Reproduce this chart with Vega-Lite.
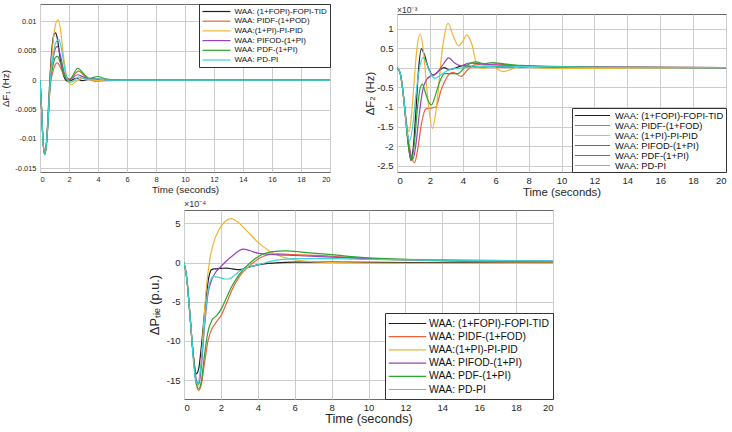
{
"$schema": "https://vega.github.io/schema/vega-lite/v6.json",
"padding": {"left": 0, "top": 3, "right": 2, "bottom": 0},
"autosize": {"type": "pad"},
"config": {
  "font": "Liberation Sans",
  "view": {"stroke": "#6a6a6a", "strokeWidth": 1},
  "axis": {"grid": true, "gridColor": "#cccccc", "gridWidth": 1, "domain": false, "ticks": false, "labelColor": "#262626", "titleColor": "#262626", "titleFontWeight": "normal", "labelFont": "Liberation Sans", "titleFont": "Liberation Sans"},
  "legend": {"title": null, "offset": 0, "strokeColor": "#333333", "fillColor": "#ffffff", "labelColor": "#111111", "labelLimit": 400, "symbolStrokeWidth": 1.6, "labelFont": "Liberation Sans"},
  "line": {"interpolate": "monotone", "strokeWidth": 1.2}
},
"datasets": {
"d1": [
{"s":"WAA: (1+FOPI)-FOPI-TID","t":0,"v":0},{"s":"WAA: (1+FOPI)-FOPI-TID","t":0.1,"v":-0.0045},{"s":"WAA: (1+FOPI)-FOPI-TID","t":0.2,"v":-0.01},{"s":"WAA: (1+FOPI)-FOPI-TID","t":0.33,"v":-0.0126},{"s":"WAA: (1+FOPI)-FOPI-TID","t":0.45,"v":-0.0105},{"s":"WAA: (1+FOPI)-FOPI-TID","t":0.55,"v":-0.0062},{"s":"WAA: (1+FOPI)-FOPI-TID","t":0.7,"v":0.001},{"s":"WAA: (1+FOPI)-FOPI-TID","t":0.85,"v":0.006},{"s":"WAA: (1+FOPI)-FOPI-TID","t":1.0,"v":0.0079},{"s":"WAA: (1+FOPI)-FOPI-TID","t":1.08,"v":0.008},{"s":"WAA: (1+FOPI)-FOPI-TID","t":1.2,"v":0.007},{"s":"WAA: (1+FOPI)-FOPI-TID","t":1.4,"v":0.0035},{"s":"WAA: (1+FOPI)-FOPI-TID","t":1.65,"v":0.0006},{"s":"WAA: (1+FOPI)-FOPI-TID","t":1.9,"v":-0.0002},{"s":"WAA: (1+FOPI)-FOPI-TID","t":2.2,"v":0},{"s":"WAA: (1+FOPI)-FOPI-TID","t":2.5,"v":0.0003},{"s":"WAA: (1+FOPI)-FOPI-TID","t":2.9,"v":-0.0001},{"s":"WAA: (1+FOPI)-FOPI-TID","t":3.5,"v":0.0002},{"s":"WAA: (1+FOPI)-FOPI-TID","t":4,"v":0.0001},{"s":"WAA: (1+FOPI)-FOPI-TID","t":4.6,"v":0},{"s":"WAA: (1+FOPI)-FOPI-TID","t":6,"v":0},{"s":"WAA: (1+FOPI)-FOPI-TID","t":20,"v":0},
{"s":"WAA: PIDF-(1+POD)","t":0,"v":0},{"s":"WAA: PIDF-(1+POD)","t":0.1,"v":-0.0045},{"s":"WAA: PIDF-(1+POD)","t":0.2,"v":-0.01},{"s":"WAA: PIDF-(1+POD)","t":0.33,"v":-0.0126},{"s":"WAA: PIDF-(1+POD)","t":0.45,"v":-0.0108},{"s":"WAA: PIDF-(1+POD)","t":0.55,"v":-0.0075},{"s":"WAA: PIDF-(1+POD)","t":0.7,"v":-0.001},{"s":"WAA: PIDF-(1+POD)","t":0.9,"v":0.0015},{"s":"WAA: PIDF-(1+POD)","t":1.05,"v":0.0026},{"s":"WAA: PIDF-(1+POD)","t":1.2,"v":0.0029},{"s":"WAA: PIDF-(1+POD)","t":1.4,"v":0.0022},{"s":"WAA: PIDF-(1+POD)","t":1.7,"v":0.0006},{"s":"WAA: PIDF-(1+POD)","t":2.05,"v":0.0002},{"s":"WAA: PIDF-(1+POD)","t":2.65,"v":0.0015},{"s":"WAA: PIDF-(1+POD)","t":3.2,"v":0.0004},{"s":"WAA: PIDF-(1+POD)","t":3.9,"v":-0.0002},{"s":"WAA: PIDF-(1+POD)","t":4.5,"v":-0.0001},{"s":"WAA: PIDF-(1+POD)","t":5.5,"v":0},{"s":"WAA: PIDF-(1+POD)","t":20,"v":0},
{"s":"WAA:(1+PI)-PI-PID","t":0,"v":0},{"s":"WAA:(1+PI)-PI-PID","t":0.1,"v":-0.0045},{"s":"WAA:(1+PI)-PI-PID","t":0.2,"v":-0.01},{"s":"WAA:(1+PI)-PI-PID","t":0.33,"v":-0.0126},{"s":"WAA:(1+PI)-PI-PID","t":0.45,"v":-0.0105},{"s":"WAA:(1+PI)-PI-PID","t":0.55,"v":-0.0065},{"s":"WAA:(1+PI)-PI-PID","t":0.7,"v":0},{"s":"WAA:(1+PI)-PI-PID","t":0.85,"v":0.005},{"s":"WAA:(1+PI)-PI-PID","t":1.05,"v":0.0092},{"s":"WAA:(1+PI)-PI-PID","t":1.24,"v":0.0102},{"s":"WAA:(1+PI)-PI-PID","t":1.4,"v":0.0088},{"s":"WAA:(1+PI)-PI-PID","t":1.6,"v":0.0045},{"s":"WAA:(1+PI)-PI-PID","t":1.85,"v":0.0005},{"s":"WAA:(1+PI)-PI-PID","t":2.15,"v":-0.0008},{"s":"WAA:(1+PI)-PI-PID","t":2.45,"v":-0.0003},{"s":"WAA:(1+PI)-PI-PID","t":2.9,"v":0.0003},{"s":"WAA:(1+PI)-PI-PID","t":3.4,"v":0.0001},{"s":"WAA:(1+PI)-PI-PID","t":4,"v":-0.0001},{"s":"WAA:(1+PI)-PI-PID","t":5,"v":-0.0001},{"s":"WAA:(1+PI)-PI-PID","t":6,"v":0},{"s":"WAA:(1+PI)-PI-PID","t":20,"v":0},
{"s":"WAA: PIFOD-(1+PI)","t":0,"v":0},{"s":"WAA: PIFOD-(1+PI)","t":0.1,"v":-0.0045},{"s":"WAA: PIFOD-(1+PI)","t":0.2,"v":-0.01},{"s":"WAA: PIFOD-(1+PI)","t":0.33,"v":-0.0126},{"s":"WAA: PIFOD-(1+PI)","t":0.45,"v":-0.0106},{"s":"WAA: PIFOD-(1+PI)","t":0.55,"v":-0.007},{"s":"WAA: PIFOD-(1+PI)","t":0.7,"v":-0.0003},{"s":"WAA: PIFOD-(1+PI)","t":0.9,"v":0.0035},{"s":"WAA: PIFOD-(1+PI)","t":1.05,"v":0.0053},{"s":"WAA: PIFOD-(1+PI)","t":1.2,"v":0.0057},{"s":"WAA: PIFOD-(1+PI)","t":1.4,"v":0.0042},{"s":"WAA: PIFOD-(1+PI)","t":1.7,"v":0.001},{"s":"WAA: PIFOD-(1+PI)","t":2.05,"v":0.0001},{"s":"WAA: PIFOD-(1+PI)","t":2.6,"v":0.0009},{"s":"WAA: PIFOD-(1+PI)","t":3.1,"v":0.0004},{"s":"WAA: PIFOD-(1+PI)","t":3.6,"v":0.0001},{"s":"WAA: PIFOD-(1+PI)","t":4,"v":0.0002},{"s":"WAA: PIFOD-(1+PI)","t":4.6,"v":0},{"s":"WAA: PIFOD-(1+PI)","t":20,"v":0},
{"s":"WAA: PDF-(1+PI)","t":0,"v":0},{"s":"WAA: PDF-(1+PI)","t":0.1,"v":-0.0045},{"s":"WAA: PDF-(1+PI)","t":0.2,"v":-0.01},{"s":"WAA: PDF-(1+PI)","t":0.33,"v":-0.0126},{"s":"WAA: PDF-(1+PI)","t":0.45,"v":-0.0107},{"s":"WAA: PDF-(1+PI)","t":0.55,"v":-0.0072},{"s":"WAA: PDF-(1+PI)","t":0.7,"v":-0.0008},{"s":"WAA: PDF-(1+PI)","t":0.9,"v":0.0025},{"s":"WAA: PDF-(1+PI)","t":1.05,"v":0.0038},{"s":"WAA: PDF-(1+PI)","t":1.2,"v":0.004},{"s":"WAA: PDF-(1+PI)","t":1.4,"v":0.003},{"s":"WAA: PDF-(1+PI)","t":1.7,"v":0.0007},{"s":"WAA: PDF-(1+PI)","t":2.0,"v":-0.0002},{"s":"WAA: PDF-(1+PI)","t":2.25,"v":0.0007},{"s":"WAA: PDF-(1+PI)","t":2.6,"v":0.002},{"s":"WAA: PDF-(1+PI)","t":3.0,"v":0.0011},{"s":"WAA: PDF-(1+PI)","t":3.4,"v":0.0003},{"s":"WAA: PDF-(1+PI)","t":4.0,"v":0.0006},{"s":"WAA: PDF-(1+PI)","t":4.5,"v":0.0002},{"s":"WAA: PDF-(1+PI)","t":5.5,"v":0},{"s":"WAA: PDF-(1+PI)","t":20,"v":0},
{"s":"WAA: PD-PI","t":0,"v":0},{"s":"WAA: PD-PI","t":0.1,"v":-0.0045},{"s":"WAA: PD-PI","t":0.2,"v":-0.01},{"s":"WAA: PD-PI","t":0.33,"v":-0.0126},{"s":"WAA: PD-PI","t":0.45,"v":-0.0106},{"s":"WAA: PD-PI","t":0.55,"v":-0.007},{"s":"WAA: PD-PI","t":0.7,"v":-0.0005},{"s":"WAA: PD-PI","t":0.9,"v":0.004},{"s":"WAA: PD-PI","t":1.1,"v":0.0064},{"s":"WAA: PD-PI","t":1.3,"v":0.0069},{"s":"WAA: PD-PI","t":1.5,"v":0.005},{"s":"WAA: PD-PI","t":1.75,"v":0.0013},{"s":"WAA: PD-PI","t":2.05,"v":-0.0004},{"s":"WAA: PD-PI","t":2.3,"v":-0.0002},{"s":"WAA: PD-PI","t":2.65,"v":0.0005},{"s":"WAA: PD-PI","t":3.1,"v":0.0002},{"s":"WAA: PD-PI","t":3.6,"v":0.0001},{"s":"WAA: PD-PI","t":4,"v":0.0002},{"s":"WAA: PD-PI","t":4.6,"v":0},{"s":"WAA: PD-PI","t":20,"v":0}
],
"d2": [
{"s":"WAA: (1+FOPI)-FOPI-TID","t":0,"v":0},{"s":"WAA: (1+FOPI)-FOPI-TID","t":0.2,"v":-0.15},{"s":"WAA: (1+FOPI)-FOPI-TID","t":0.4,"v":-0.75},{"s":"WAA: (1+FOPI)-FOPI-TID","t":0.55,"v":-1.4},{"s":"WAA: (1+FOPI)-FOPI-TID","t":0.7,"v":-2.0},{"s":"WAA: (1+FOPI)-FOPI-TID","t":0.85,"v":-2.37},{"s":"WAA: (1+FOPI)-FOPI-TID","t":1.0,"v":-2.0},{"s":"WAA: (1+FOPI)-FOPI-TID","t":1.15,"v":-1.1},{"s":"WAA: (1+FOPI)-FOPI-TID","t":1.3,"v":-0.1},{"s":"WAA: (1+FOPI)-FOPI-TID","t":1.48,"v":0.48},{"s":"WAA: (1+FOPI)-FOPI-TID","t":1.65,"v":0.35},{"s":"WAA: (1+FOPI)-FOPI-TID","t":1.9,"v":0},{"s":"WAA: (1+FOPI)-FOPI-TID","t":2.2,"v":-0.19},{"s":"WAA: (1+FOPI)-FOPI-TID","t":2.5,"v":-0.1},{"s":"WAA: (1+FOPI)-FOPI-TID","t":2.85,"v":0},{"s":"WAA: (1+FOPI)-FOPI-TID","t":3.2,"v":-0.05},{"s":"WAA: (1+FOPI)-FOPI-TID","t":3.6,"v":0},{"s":"WAA: (1+FOPI)-FOPI-TID","t":4.0,"v":0.05},{"s":"WAA: (1+FOPI)-FOPI-TID","t":5,"v":0.02},{"s":"WAA: (1+FOPI)-FOPI-TID","t":7,"v":0.02},{"s":"WAA: (1+FOPI)-FOPI-TID","t":10,"v":0.01},{"s":"WAA: (1+FOPI)-FOPI-TID","t":20,"v":0},
{"s":"WAA: PIDF-(1+FOD)","t":0,"v":0},{"s":"WAA: PIDF-(1+FOD)","t":0.2,"v":-0.15},{"s":"WAA: PIDF-(1+FOD)","t":0.4,"v":-0.75},{"s":"WAA: PIDF-(1+FOD)","t":0.55,"v":-1.35},{"s":"WAA: PIDF-(1+FOD)","t":0.7,"v":-1.85},{"s":"WAA: PIDF-(1+FOD)","t":0.9,"v":-2.3},{"s":"WAA: PIDF-(1+FOD)","t":1.07,"v":-2.42},{"s":"WAA: PIDF-(1+FOD)","t":1.25,"v":-2.1},{"s":"WAA: PIDF-(1+FOD)","t":1.5,"v":-1.4},{"s":"WAA: PIDF-(1+FOD)","t":1.75,"v":-1.05},{"s":"WAA: PIDF-(1+FOD)","t":2.05,"v":-1.03},{"s":"WAA: PIDF-(1+FOD)","t":2.35,"v":-1.0},{"s":"WAA: PIDF-(1+FOD)","t":2.7,"v":-0.55},{"s":"WAA: PIDF-(1+FOD)","t":3.1,"v":-0.2},{"s":"WAA: PIDF-(1+FOD)","t":3.4,"v":-0.12},{"s":"WAA: PIDF-(1+FOD)","t":3.9,"v":-0.22},{"s":"WAA: PIDF-(1+FOD)","t":4.3,"v":-0.05},{"s":"WAA: PIDF-(1+FOD)","t":4.8,"v":0.08},{"s":"WAA: PIDF-(1+FOD)","t":5.4,"v":0.07},{"s":"WAA: PIDF-(1+FOD)","t":6.0,"v":0.1},{"s":"WAA: PIDF-(1+FOD)","t":7.0,"v":0.06},{"s":"WAA: PIDF-(1+FOD)","t":10,"v":0.02},{"s":"WAA: PIDF-(1+FOD)","t":20,"v":0},
{"s":"WAA: (1+PI)-PI-PID","t":0,"v":0},{"s":"WAA: (1+PI)-PI-PID","t":0.2,"v":-0.15},{"s":"WAA: (1+PI)-PI-PID","t":0.4,"v":-0.75},{"s":"WAA: (1+PI)-PI-PID","t":0.6,"v":-1.45},{"s":"WAA: (1+PI)-PI-PID","t":0.73,"v":-1.63},{"s":"WAA: (1+PI)-PI-PID","t":0.85,"v":-1.35},{"s":"WAA: (1+PI)-PI-PID","t":1.0,"v":-0.6},{"s":"WAA: (1+PI)-PI-PID","t":1.2,"v":0.45},{"s":"WAA: (1+PI)-PI-PID","t":1.42,"v":0.86},{"s":"WAA: (1+PI)-PI-PID","t":1.6,"v":0.45},{"s":"WAA: (1+PI)-PI-PID","t":1.85,"v":-0.7},{"s":"WAA: (1+PI)-PI-PID","t":2.15,"v":-1.55},{"s":"WAA: (1+PI)-PI-PID","t":2.4,"v":-1.0},{"s":"WAA: (1+PI)-PI-PID","t":2.75,"v":0.45},{"s":"WAA: (1+PI)-PI-PID","t":3.1,"v":1.13},{"s":"WAA: (1+PI)-PI-PID","t":3.45,"v":0.78},{"s":"WAA: (1+PI)-PI-PID","t":3.74,"v":0.56},{"s":"WAA: (1+PI)-PI-PID","t":4.0,"v":0.68},{"s":"WAA: (1+PI)-PI-PID","t":4.25,"v":0.84},{"s":"WAA: (1+PI)-PI-PID","t":4.55,"v":0.6},{"s":"WAA: (1+PI)-PI-PID","t":4.92,"v":0},{"s":"WAA: (1+PI)-PI-PID","t":5.3,"v":-0.02},{"s":"WAA: (1+PI)-PI-PID","t":5.8,"v":0.02},{"s":"WAA: (1+PI)-PI-PID","t":6.45,"v":-0.1},{"s":"WAA: (1+PI)-PI-PID","t":7.0,"v":-0.03},{"s":"WAA: (1+PI)-PI-PID","t":7.5,"v":0.03},{"s":"WAA: (1+PI)-PI-PID","t":8.2,"v":0},{"s":"WAA: (1+PI)-PI-PID","t":9.5,"v":-0.02},{"s":"WAA: (1+PI)-PI-PID","t":11,"v":-0.02},{"s":"WAA: (1+PI)-PI-PID","t":14,"v":-0.01},{"s":"WAA: (1+PI)-PI-PID","t":20,"v":0},
{"s":"WAA: PIFOD-(1+PI)","t":0,"v":0},{"s":"WAA: PIFOD-(1+PI)","t":0.2,"v":-0.15},{"s":"WAA: PIFOD-(1+PI)","t":0.4,"v":-0.75},{"s":"WAA: PIFOD-(1+PI)","t":0.55,"v":-1.35},{"s":"WAA: PIFOD-(1+PI)","t":0.7,"v":-1.95},{"s":"WAA: PIFOD-(1+PI)","t":0.97,"v":-2.33},{"s":"WAA: PIFOD-(1+PI)","t":1.15,"v":-1.95},{"s":"WAA: PIFOD-(1+PI)","t":1.35,"v":-1.2},{"s":"WAA: PIFOD-(1+PI)","t":1.55,"v":-0.6},{"s":"WAA: PIFOD-(1+PI)","t":1.8,"v":-0.3},{"s":"WAA: PIFOD-(1+PI)","t":2.1,"v":-0.2},{"s":"WAA: PIFOD-(1+PI)","t":2.4,"v":-0.15},{"s":"WAA: PIFOD-(1+PI)","t":2.75,"v":0.05},{"s":"WAA: PIFOD-(1+PI)","t":3.15,"v":0.25},{"s":"WAA: PIFOD-(1+PI)","t":3.5,"v":0.12},{"s":"WAA: PIFOD-(1+PI)","t":3.9,"v":0.05},{"s":"WAA: PIFOD-(1+PI)","t":4.4,"v":0.12},{"s":"WAA: PIFOD-(1+PI)","t":5.0,"v":0.1},{"s":"WAA: PIFOD-(1+PI)","t":6,"v":0.07},{"s":"WAA: PIFOD-(1+PI)","t":7,"v":0.05},{"s":"WAA: PIFOD-(1+PI)","t":10,"v":0.02},{"s":"WAA: PIFOD-(1+PI)","t":20,"v":0},
{"s":"WAA: PDF-(1+PI)","t":0,"v":0},{"s":"WAA: PDF-(1+PI)","t":0.2,"v":-0.15},{"s":"WAA: PDF-(1+PI)","t":0.4,"v":-0.75},{"s":"WAA: PDF-(1+PI)","t":0.55,"v":-1.4},{"s":"WAA: PDF-(1+PI)","t":0.7,"v":-2.0},{"s":"WAA: PDF-(1+PI)","t":0.87,"v":-2.37},{"s":"WAA: PDF-(1+PI)","t":1.05,"v":-1.95},{"s":"WAA: PDF-(1+PI)","t":1.25,"v":-1.0},{"s":"WAA: PDF-(1+PI)","t":1.42,"v":-0.5},{"s":"WAA: PDF-(1+PI)","t":1.54,"v":-0.42},{"s":"WAA: PDF-(1+PI)","t":1.7,"v":-0.6},{"s":"WAA: PDF-(1+PI)","t":1.9,"v":-0.85},{"s":"WAA: PDF-(1+PI)","t":2.09,"v":-0.95},{"s":"WAA: PDF-(1+PI)","t":2.3,"v":-0.75},{"s":"WAA: PDF-(1+PI)","t":2.6,"v":-0.35},{"s":"WAA: PDF-(1+PI)","t":2.9,"v":-0.15},{"s":"WAA: PDF-(1+PI)","t":3.3,"v":-0.15},{"s":"WAA: PDF-(1+PI)","t":3.7,"v":-0.15},{"s":"WAA: PDF-(1+PI)","t":4.2,"v":0.05},{"s":"WAA: PDF-(1+PI)","t":4.8,"v":0.15},{"s":"WAA: PDF-(1+PI)","t":5.3,"v":0.1},{"s":"WAA: PDF-(1+PI)","t":5.8,"v":0.13},{"s":"WAA: PDF-(1+PI)","t":6.5,"v":0.1},{"s":"WAA: PDF-(1+PI)","t":7.5,"v":0.06},{"s":"WAA: PDF-(1+PI)","t":10,"v":0.03},{"s":"WAA: PDF-(1+PI)","t":14,"v":0.01},{"s":"WAA: PDF-(1+PI)","t":20,"v":0},
{"s":"WAA: PD-PI","t":0,"v":0},{"s":"WAA: PD-PI","t":0.2,"v":-0.15},{"s":"WAA: PD-PI","t":0.4,"v":-0.75},{"s":"WAA: PD-PI","t":0.6,"v":-1.6},{"s":"WAA: PD-PI","t":0.77,"v":-1.86},{"s":"WAA: PD-PI","t":0.95,"v":-1.5},{"s":"WAA: PD-PI","t":1.15,"v":-0.7},{"s":"WAA: PD-PI","t":1.35,"v":-0.05},{"s":"WAA: PD-PI","t":1.6,"v":0.26},{"s":"WAA: PD-PI","t":1.85,"v":0.05},{"s":"WAA: PD-PI","t":2.05,"v":-0.15},{"s":"WAA: PD-PI","t":2.3,"v":-0.27},{"s":"WAA: PD-PI","t":2.7,"v":-0.17},{"s":"WAA: PD-PI","t":3.2,"v":-0.05},{"s":"WAA: PD-PI","t":4.0,"v":0},{"s":"WAA: PD-PI","t":5,"v":0.03},{"s":"WAA: PD-PI","t":6,"v":0.04},{"s":"WAA: PD-PI","t":8,"v":0.03},{"s":"WAA: PD-PI","t":12,"v":0.01},{"s":"WAA: PD-PI","t":20,"v":0}
],
"d3": [
{"s":"WAA: (1+FOPI)-FOPI-TID","t":0,"v":0},{"s":"WAA: (1+FOPI)-FOPI-TID","t":0.15,"v":-2},{"s":"WAA: (1+FOPI)-FOPI-TID","t":0.3,"v":-6},{"s":"WAA: (1+FOPI)-FOPI-TID","t":0.45,"v":-10.5},{"s":"WAA: (1+FOPI)-FOPI-TID","t":0.55,"v":-12.8},{"s":"WAA: (1+FOPI)-FOPI-TID","t":0.67,"v":-14.2},{"s":"WAA: (1+FOPI)-FOPI-TID","t":0.8,"v":-13.5},{"s":"WAA: (1+FOPI)-FOPI-TID","t":0.95,"v":-10.5},{"s":"WAA: (1+FOPI)-FOPI-TID","t":1.15,"v":-5.5},{"s":"WAA: (1+FOPI)-FOPI-TID","t":1.35,"v":-1.8},{"s":"WAA: (1+FOPI)-FOPI-TID","t":1.5,"v":-0.9},{"s":"WAA: (1+FOPI)-FOPI-TID","t":1.7,"v":-0.8},{"s":"WAA: (1+FOPI)-FOPI-TID","t":2.0,"v":-0.75},{"s":"WAA: (1+FOPI)-FOPI-TID","t":2.3,"v":-0.7},{"s":"WAA: (1+FOPI)-FOPI-TID","t":2.6,"v":-0.8},{"s":"WAA: (1+FOPI)-FOPI-TID","t":3.0,"v":-0.9},{"s":"WAA: (1+FOPI)-FOPI-TID","t":3.5,"v":-0.6},{"s":"WAA: (1+FOPI)-FOPI-TID","t":4.0,"v":-0.3},{"s":"WAA: (1+FOPI)-FOPI-TID","t":5.0,"v":-0.05},{"s":"WAA: (1+FOPI)-FOPI-TID","t":6,"v":0.05},{"s":"WAA: (1+FOPI)-FOPI-TID","t":8,"v":0.05},{"s":"WAA: (1+FOPI)-FOPI-TID","t":12,"v":0},{"s":"WAA: (1+FOPI)-FOPI-TID","t":20,"v":-0.05},
{"s":"WAA: PIDF-(1+FOD)","t":0,"v":0},{"s":"WAA: PIDF-(1+FOD)","t":0.15,"v":-2},{"s":"WAA: PIDF-(1+FOD)","t":0.3,"v":-6},{"s":"WAA: PIDF-(1+FOD)","t":0.45,"v":-10.5},{"s":"WAA: PIDF-(1+FOD)","t":0.55,"v":-13},{"s":"WAA: PIDF-(1+FOD)","t":0.65,"v":-15.3},{"s":"WAA: PIDF-(1+FOD)","t":0.8,"v":-16.3},{"s":"WAA: PIDF-(1+FOD)","t":0.95,"v":-15.4},{"s":"WAA: PIDF-(1+FOD)","t":1.1,"v":-13},{"s":"WAA: PIDF-(1+FOD)","t":1.3,"v":-10},{"s":"WAA: PIDF-(1+FOD)","t":1.5,"v":-8.5},{"s":"WAA: PIDF-(1+FOD)","t":1.75,"v":-7.6},{"s":"WAA: PIDF-(1+FOD)","t":2.05,"v":-6.6},{"s":"WAA: PIDF-(1+FOD)","t":2.3,"v":-5.2},{"s":"WAA: PIDF-(1+FOD)","t":2.6,"v":-3.5},{"s":"WAA: PIDF-(1+FOD)","t":3.0,"v":-1.8},{"s":"WAA: PIDF-(1+FOD)","t":3.6,"v":-0.3},{"s":"WAA: PIDF-(1+FOD)","t":4.3,"v":0.8},{"s":"WAA: PIDF-(1+FOD)","t":5.0,"v":1.1},{"s":"WAA: PIDF-(1+FOD)","t":6,"v":1.0},{"s":"WAA: PIDF-(1+FOD)","t":8,"v":0.8},{"s":"WAA: PIDF-(1+FOD)","t":10,"v":0.5},{"s":"WAA: PIDF-(1+FOD)","t":14,"v":0.2},{"s":"WAA: PIDF-(1+FOD)","t":20,"v":0.05},
{"s":"WAA:(1+PI)-PI-PID","t":0,"v":0},{"s":"WAA:(1+PI)-PI-PID","t":0.15,"v":-2},{"s":"WAA:(1+PI)-PI-PID","t":0.3,"v":-6},{"s":"WAA:(1+PI)-PI-PID","t":0.45,"v":-10.5},{"s":"WAA:(1+PI)-PI-PID","t":0.55,"v":-12.9},{"s":"WAA:(1+PI)-PI-PID","t":0.65,"v":-14.8},{"s":"WAA:(1+PI)-PI-PID","t":0.78,"v":-15.7},{"s":"WAA:(1+PI)-PI-PID","t":0.92,"v":-13},{"s":"WAA:(1+PI)-PI-PID","t":1.05,"v":-8.5},{"s":"WAA:(1+PI)-PI-PID","t":1.2,"v":-3.5},{"s":"WAA:(1+PI)-PI-PID","t":1.4,"v":0.4},{"s":"WAA:(1+PI)-PI-PID","t":1.6,"v":2.5},{"s":"WAA:(1+PI)-PI-PID","t":1.9,"v":4.2},{"s":"WAA:(1+PI)-PI-PID","t":2.2,"v":5.2},{"s":"WAA:(1+PI)-PI-PID","t":2.55,"v":5.6},{"s":"WAA:(1+PI)-PI-PID","t":2.9,"v":5.2},{"s":"WAA:(1+PI)-PI-PID","t":3.3,"v":4.3},{"s":"WAA:(1+PI)-PI-PID","t":4.0,"v":2.6},{"s":"WAA:(1+PI)-PI-PID","t":4.6,"v":1.5},{"s":"WAA:(1+PI)-PI-PID","t":5.5,"v":0.6},{"s":"WAA:(1+PI)-PI-PID","t":6.5,"v":0.2},{"s":"WAA:(1+PI)-PI-PID","t":8,"v":0},{"s":"WAA:(1+PI)-PI-PID","t":12,"v":-0.1},{"s":"WAA:(1+PI)-PI-PID","t":20,"v":-0.1},
{"s":"WAA: PIFOD-(1+PI)","t":0,"v":0},{"s":"WAA: PIFOD-(1+PI)","t":0.15,"v":-2},{"s":"WAA: PIFOD-(1+PI)","t":0.3,"v":-6},{"s":"WAA: PIFOD-(1+PI)","t":0.45,"v":-10.5},{"s":"WAA: PIFOD-(1+PI)","t":0.55,"v":-12.9},{"s":"WAA: PIFOD-(1+PI)","t":0.65,"v":-14.8},{"s":"WAA: PIFOD-(1+PI)","t":0.8,"v":-15.5},{"s":"WAA: PIFOD-(1+PI)","t":0.95,"v":-13},{"s":"WAA: PIFOD-(1+PI)","t":1.1,"v":-8.5},{"s":"WAA: PIFOD-(1+PI)","t":1.3,"v":-4},{"s":"WAA: PIFOD-(1+PI)","t":1.5,"v":-2.2},{"s":"WAA: PIFOD-(1+PI)","t":1.7,"v":-1.3},{"s":"WAA: PIFOD-(1+PI)","t":2.0,"v":-0.5},{"s":"WAA: PIFOD-(1+PI)","t":2.3,"v":0.2},{"s":"WAA: PIFOD-(1+PI)","t":2.7,"v":1.0},{"s":"WAA: PIFOD-(1+PI)","t":3.2,"v":1.7},{"s":"WAA: PIFOD-(1+PI)","t":3.6,"v":1.5},{"s":"WAA: PIFOD-(1+PI)","t":4.0,"v":1.2},{"s":"WAA: PIFOD-(1+PI)","t":5.0,"v":1.0},{"s":"WAA: PIFOD-(1+PI)","t":6,"v":0.9},{"s":"WAA: PIFOD-(1+PI)","t":8,"v":0.7},{"s":"WAA: PIFOD-(1+PI)","t":10,"v":0.5},{"s":"WAA: PIFOD-(1+PI)","t":14,"v":0.3},{"s":"WAA: PIFOD-(1+PI)","t":20,"v":0.2},
{"s":"WAA: PDF-(1+PI)","t":0,"v":0},{"s":"WAA: PDF-(1+PI)","t":0.15,"v":-2},{"s":"WAA: PDF-(1+PI)","t":0.3,"v":-6},{"s":"WAA: PDF-(1+PI)","t":0.45,"v":-10.5},{"s":"WAA: PDF-(1+PI)","t":0.55,"v":-13},{"s":"WAA: PDF-(1+PI)","t":0.65,"v":-15.2},{"s":"WAA: PDF-(1+PI)","t":0.8,"v":-16.1},{"s":"WAA: PDF-(1+PI)","t":0.95,"v":-15},{"s":"WAA: PDF-(1+PI)","t":1.1,"v":-12},{"s":"WAA: PDF-(1+PI)","t":1.3,"v":-8.8},{"s":"WAA: PDF-(1+PI)","t":1.5,"v":-7.4},{"s":"WAA: PDF-(1+PI)","t":1.75,"v":-6.8},{"s":"WAA: PDF-(1+PI)","t":2.0,"v":-6.0},{"s":"WAA: PDF-(1+PI)","t":2.3,"v":-4.5},{"s":"WAA: PDF-(1+PI)","t":2.6,"v":-3.0},{"s":"WAA: PDF-(1+PI)","t":3.0,"v":-1.5},{"s":"WAA: PDF-(1+PI)","t":3.6,"v":0},{"s":"WAA: PDF-(1+PI)","t":4.2,"v":1.0},{"s":"WAA: PDF-(1+PI)","t":4.8,"v":1.4},{"s":"WAA: PDF-(1+PI)","t":5.5,"v":1.5},{"s":"WAA: PDF-(1+PI)","t":6.5,"v":1.3},{"s":"WAA: PDF-(1+PI)","t":8,"v":1.0},{"s":"WAA: PDF-(1+PI)","t":10,"v":0.6},{"s":"WAA: PDF-(1+PI)","t":14,"v":0.3},{"s":"WAA: PDF-(1+PI)","t":20,"v":0.1},
{"s":"WAA: PD-PI","t":0,"v":0},{"s":"WAA: PD-PI","t":0.15,"v":-2},{"s":"WAA: PD-PI","t":0.3,"v":-6},{"s":"WAA: PD-PI","t":0.45,"v":-10.5},{"s":"WAA: PD-PI","t":0.52,"v":-12.8},{"s":"WAA: PD-PI","t":0.62,"v":-14.9},{"s":"WAA: PD-PI","t":0.75,"v":-15.5},{"s":"WAA: PD-PI","t":0.9,"v":-13.5},{"s":"WAA: PD-PI","t":1.05,"v":-9.5},{"s":"WAA: PD-PI","t":1.25,"v":-4.5},{"s":"WAA: PD-PI","t":1.45,"v":-2.2},{"s":"WAA: PD-PI","t":1.6,"v":-1.8},{"s":"WAA: PD-PI","t":1.9,"v":-1.9},{"s":"WAA: PD-PI","t":2.2,"v":-2.1},{"s":"WAA: PD-PI","t":2.45,"v":-2.1},{"s":"WAA: PD-PI","t":2.7,"v":-1.7},{"s":"WAA: PD-PI","t":3.0,"v":-1.1},{"s":"WAA: PD-PI","t":3.5,"v":-0.6},{"s":"WAA: PD-PI","t":4.0,"v":-0.3},{"s":"WAA: PD-PI","t":5.0,"v":0.3},{"s":"WAA: PD-PI","t":6,"v":0.5},{"s":"WAA: PD-PI","t":8,"v":0.5},{"s":"WAA: PD-PI","t":10,"v":0.4},{"s":"WAA: PD-PI","t":14,"v":0.3},{"s":"WAA: PD-PI","t":20,"v":0.2}
]
},
"spacing": 0,
"resolve": {"scale": {"color": "independent", "x": "independent", "y": "independent"}, "legend": {"color": "independent"}},
"vconcat": [
 {
  "spacing": 33,
  "resolve": {"scale": {"color": "independent", "x": "independent", "y": "independent"}, "legend": {"color": "independent"}},
  "hconcat": [
   {
    "width": 290, "height": 168,
    "data": {"name": "d1"},
    "mark": {"type": "line", "clip": true},
    "encoding": {
      "x": {"field": "t", "type": "quantitative", "scale": {"domain": [0, 20], "nice": false}, "axis": {"values": [0,2,4,6,8,10,12,14,16,18,20], "title": "Time (seconds)", "labelFontSize": 7.5, "titleFontSize": 9.8, "labelPadding": 3, "titlePadding": 2}},
      "y": {"field": "v", "type": "quantitative", "scale": {"domain": [-0.0156, 0.0129], "nice": false, "zero": false}, "axis": {"values": [-0.015,-0.01,-0.005,0,0.005,0.01], "labelExpr": "'' + datum.value", "title": "ΔF₁  (Hz)", "labelFontSize": 7.5, "titleFontSize": 9.8, "labelPadding": 4, "titlePadding": 4}},
      "color": {"field": "s", "type": "nominal", "sort": null,
        "scale": {"domain": ["WAA: (1+FOPI)-FOPI-TID","WAA: PIDF-(1+POD)","WAA:(1+PI)-PI-PID","WAA: PIFOD-(1+PI)","WAA: PDF-(1+PI)","WAA: PD-PI"], "range": ["#1f1f1f","#e9623a","#f2b431","#9940bf","#2ca52c","#3dd3d6"]},
        "legend": {"orient": "top-right", "padding": 2.5, "rowPadding": 0.7, "labelFontSize": 8, "symbolSize": 64, "symbolType": "M-3.5,0H3.5", "symbolOffset": 10, "labelOffset": 13}}
    }
   },
   {
    "spacing": 0,
    "resolve": {"scale": {"color": "independent", "x": "independent", "y": "independent"}, "legend": {"color": "independent"}},
    "vconcat": [
     {"width": 1, "height": 1, "data": {"values": [{}]}, "mark": {"type": "point", "opacity": 0, "size": 0}, "view": {"stroke": null}},
     {
      "width": 329, "height": 158,
      "title": {"text": "×10⁻³", "anchor": "start", "frame": "group", "fontSize": 8.5, "fontWeight": "normal", "offset": 0, "color": "#333333"},
      "data": {"name": "d2"},
      "mark": {"type": "line", "clip": true},
      "encoding": {
        "x": {"field": "t", "type": "quantitative", "scale": {"domain": [0, 20], "nice": false}, "axis": {"values": [0,2,4,6,8,10,12,14,16,18,20], "title": "Time (seconds)", "labelFontSize": 9.5, "titleFontSize": 11.4, "labelPadding": 3, "titlePadding": 2}},
        "y": {"field": "v", "type": "quantitative", "scale": {"domain": [-2.66, 1.37], "nice": false, "zero": false}, "axis": {"values": [-2.5,-2,-1.5,-1,-0.5,0,0.5,1], "labelExpr": "'' + datum.value", "title": "ΔF₂ (Hz)", "labelFontSize": 9.5, "titleFontSize": 11.4, "labelPadding": 4, "titlePadding": 1}},
        "color": {"field": "s", "type": "nominal", "sort": null,
          "scale": {"domain": ["WAA: (1+FOPI)-FOPI-TID","WAA: PIDF-(1+FOD)","WAA: (1+PI)-PI-PID","WAA: PIFOD-(1+PI)","WAA: PDF-(1+PI)","WAA: PD-PI"], "range": ["#1f1f1f","#e9623a","#f2b431","#9940bf","#2ca52c","#3dd3d6"]},
          "legend": {"orient": "bottom-right", "padding": 2, "rowPadding": 0, "labelFontSize": 9.4, "symbolSize": 81, "symbolType": "M-3.9,0H3.9", "symbolOffset": 13, "labelOffset": 17}}
      }
     }
    ]
   }
  ]
 },
 {
  "spacing": 0,
  "resolve": {"scale": {"color": "independent", "x": "independent", "y": "independent"}, "legend": {"color": "independent"}},
  "hconcat": [
   {"width": 107, "height": 1, "data": {"values": [{}]}, "mark": {"type": "point", "opacity": 0, "size": 0}, "view": {"stroke": null}},
   {
    "width": 369, "height": 189,
    "title": {"text": "×10⁻⁴", "anchor": "start", "frame": "group", "fontSize": 9, "fontWeight": "normal", "offset": 1, "color": "#333333"},
    "data": {"name": "d3"},
    "mark": {"type": "line", "clip": true},
    "encoding": {
      "x": {"field": "t", "type": "quantitative", "scale": {"domain": [0, 20], "nice": false}, "axis": {"values": [0,2,4,6,8,10,12,14,16,18,20], "title": "Time (seconds)", "labelFontSize": 9.5, "titleFontSize": 12.8, "labelPadding": 3, "titlePadding": 1}},
      "y": {"field": "v", "type": "quantitative", "scale": {"domain": [-17.4, 6.7], "nice": false, "zero": false}, "axis": {"values": [-15,-10,-5,0,5], "labelExpr": "'' + datum.value", "title": "ΔPₜᵢₑ (p.u.)", "labelFontSize": 9.5, "titleFontSize": 12.8, "labelPadding": 4, "titlePadding": 5}},
      "color": {"field": "s", "type": "nominal", "sort": null,
        "scale": {"domain": ["WAA: (1+FOPI)-FOPI-TID","WAA: PIDF-(1+FOD)","WAA:(1+PI)-PI-PID","WAA: PIFOD-(1+PI)","WAA: PDF-(1+PI)","WAA: PD-PI"], "range": ["#1f1f1f","#e9623a","#f2b431","#9940bf","#2ca52c","#3dd3d6"]},
        "legend": {"orient": "bottom-right", "padding": 4, "rowPadding": 1.2, "labelFontSize": 10.4, "symbolSize": 121, "symbolType": "M-3.4,0H3.4", "symbolOffset": 12, "labelOffset": 15}}
    }
   }
  ]
 }
]
}
